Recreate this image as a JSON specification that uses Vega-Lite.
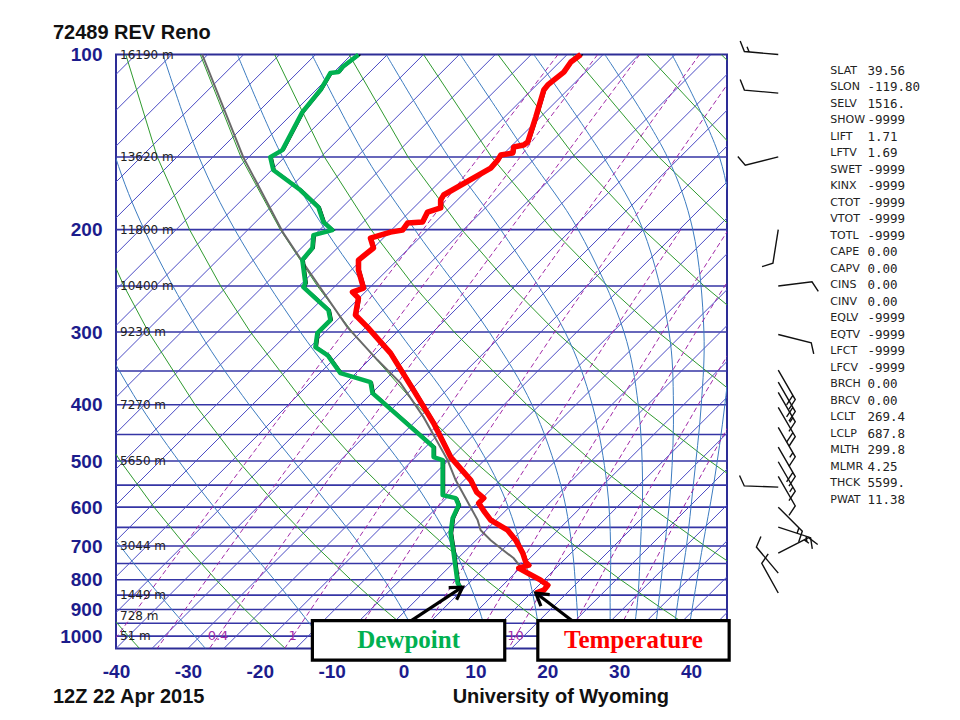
{
  "$schema": "https://vega.github.io/schema/vega-lite/v6.json",
  "width": 611,
  "height": 594,
  "autosize": {"type": "none"},
  "padding": {"left": 116, "top": 54.5, "right": 233, "bottom": 71.5},
  "background": "white",
  "config": {
    "view": {"stroke": "#2d2d96", "strokeWidth": 2},
    "font": "Liberation Sans",
    "axis": {"ticks": false, "domain": false, "grid": false, "labelColor": "#1c1c8c", "labelFontSize": 19, "labelFontWeight": "bold", "labelFont": "Liberation Sans", "labelFlush": false, "labelOverlap": false, "labelPadding": 14, "title": null}
  },
  "layer": [
    {
      "data": {"values": [{"p":150},{"p":200},{"p":250},{"p":300},{"p":350},{"p":400},{"p":450},{"p":500},{"p":550},{"p":600},{"p":650},{"p":700},{"p":750},{"p":800},{"p":850},{"p":900},{"p":950},{"p":1000}]},
      "mark": {"type": "rule", "color": "#3535a5", "strokeWidth": 1.6},
      "encoding": {
        "y": {"field": "p", "type": "quantitative", "title": null, "scale": {"type": "log", "domain": [100, 1050], "reverse": true, "nice": false, "zero": false},
          "axis": {"values": [100,200,300,400,500,600,700,800,900,1000], "format": "d", "title": null}}
      }
    },
    {
      "data": {"values": [
        {"t":-120,"xt":-37.23},{"t":-115,"xt":-32.23},{"t":-110,"xt":-27.23},{"t":-105,"xt":-22.23},{"t":-100,"xt":-17.23},{"t":-95,"xt":-12.23},{"t":-90,"xt":-7.23},{"t":-85,"xt":-2.23},{"t":-80,"xt":2.77},{"t":-75,"xt":7.77},{"t":-70,"xt":12.77},{"t":-65,"xt":17.77},{"t":-60,"xt":22.77},{"t":-55,"xt":27.77},{"t":-50,"xt":32.77},{"t":-45,"xt":37.77},{"t":-40,"xt":42.77},{"t":-35,"xt":47.77},{"t":-30,"xt":52.77},{"t":-25,"xt":57.77},{"t":-20,"xt":62.77},{"t":-15,"xt":67.77},{"t":-10,"xt":72.77},{"t":-5,"xt":77.77},{"t":0,"xt":82.77},{"t":5,"xt":87.77},{"t":10,"xt":92.77},{"t":15,"xt":97.77},{"t":20,"xt":102.77},{"t":25,"xt":107.77},{"t":30,"xt":112.77},{"t":35,"xt":117.77},{"t":40,"xt":122.77},{"t":45,"xt":127.77}
      ]},
      "mark": {"type": "rule", "color": "#4b4bc4", "strokeWidth": 1, "clip": true},
      "encoding": {
        "x": {"field": "t", "type": "quantitative", "title": null, "scale": {"domain": [-40, 45], "nice": false, "zero": false},
          "axis": {"values": [-40,-30,-20,-10,0,10,20,30,40], "labelExpr": "'' + datum.value", "title": null}},
        "x2": {"field": "xt"},
        "y": {"datum": 1050, "title": null},
        "y2": {"datum": 100}
      }
    },
    {
      "data": {"values": [
        {"th":233,"p":1050,"x":-36.72},{"th":233,"p":1000,"x":-38.28},{"th":233,"p":900,"x":-41.49},
        {"th":253,"p":1050,"x":-16.44},{"th":253,"p":1000,"x":-18.28},{"th":253,"p":900,"x":-22.08},{"th":253,"p":800,"x":-26.08},{"th":253,"p":700,"x":-30.28},{"th":253,"p":600,"x":-34.71},{"th":253,"p":500,"x":-39.40},{"th":253,"p":400,"x":-44.39},
        {"th":273,"p":1050,"x":3.84},{"th":273,"p":1000,"x":1.72},{"th":273,"p":900,"x":-2.68},{"th":273,"p":800,"x":-7.32},{"th":273,"p":700,"x":-12.22},{"th":273,"p":600,"x":-17.43},{"th":273,"p":500,"x":-23.00},{"th":273,"p":400,"x":-29.01},{"th":273,"p":300,"x":-35.48},{"th":273,"p":250,"x":-38.90},{"th":273,"p":200,"x":-42.40},
        {"th":293,"p":1050,"x":24.12},{"th":293,"p":1000,"x":21.72},{"th":293,"p":900,"x":16.73},{"th":293,"p":800,"x":11.45},{"th":293,"p":700,"x":5.84},{"th":293,"p":600,"x":-0.15},{"th":293,"p":500,"x":-6.60},{"th":293,"p":400,"x":-13.62},{"th":293,"p":300,"x":-21.30},{"th":293,"p":250,"x":-25.44},{"th":293,"p":200,"x":-29.77},{"th":293,"p":150,"x":-34.26},{"th":293,"p":100,"x":-38.64},
        {"th":313,"p":1050,"x":44.40},{"th":313,"p":1000,"x":41.72},{"th":313,"p":900,"x":36.14},{"th":313,"p":800,"x":30.21},{"th":313,"p":700,"x":23.90},{"th":313,"p":600,"x":17.13},{"th":313,"p":500,"x":9.80},{"th":313,"p":400,"x":1.77},{"th":313,"p":300,"x":-7.13},{"th":313,"p":250,"x":-11.99},{"th":313,"p":200,"x":-17.15},{"th":313,"p":150,"x":-22.63},{"th":313,"p":100,"x":-28.28},
        {"th":333,"p":900,"x":55.54},{"th":333,"p":800,"x":48.97},{"th":333,"p":700,"x":41.96},{"th":333,"p":600,"x":34.41},{"th":333,"p":500,"x":26.21},{"th":333,"p":400,"x":17.16},{"th":333,"p":300,"x":7.04},{"th":333,"p":250,"x":1.46},{"th":333,"p":200,"x":-4.53},{"th":333,"p":150,"x":-11.01},{"th":333,"p":100,"x":-17.93},
        {"th":353,"p":800,"x":67.74},{"th":353,"p":700,"x":60.02},{"th":353,"p":600,"x":51.70},{"th":353,"p":500,"x":42.61},{"th":353,"p":400,"x":32.55},{"th":353,"p":300,"x":21.22},{"th":353,"p":250,"x":14.92},{"th":353,"p":200,"x":8.09},{"th":353,"p":150,"x":0.62},{"th":353,"p":100,"x":-7.58},
        {"th":373,"p":600,"x":68.98},{"th":373,"p":500,"x":59.01},{"th":373,"p":400,"x":47.94},{"th":373,"p":300,"x":35.39},{"th":373,"p":250,"x":28.37},{"th":373,"p":200,"x":20.71},{"th":373,"p":150,"x":12.24},{"th":373,"p":100,"x":2.78},
        {"th":393,"p":500,"x":75.42},{"th":393,"p":400,"x":63.33},{"th":393,"p":300,"x":49.56},{"th":393,"p":250,"x":41.82},{"th":393,"p":200,"x":33.34},{"th":393,"p":150,"x":23.87},{"th":393,"p":100,"x":13.13},
        {"th":413,"p":400,"x":78.71},{"th":413,"p":300,"x":63.74},{"th":413,"p":250,"x":55.28},{"th":413,"p":200,"x":45.96},{"th":413,"p":150,"x":35.49},{"th":413,"p":100,"x":23.48},
        {"th":433,"p":300,"x":77.91},{"th":433,"p":250,"x":68.73},{"th":433,"p":200,"x":58.58},{"th":433,"p":150,"x":47.12},{"th":433,"p":100,"x":33.84},
        {"th":453,"p":200,"x":71.20},{"th":453,"p":150,"x":58.74},{"th":453,"p":100,"x":44.19}
      ]},
      "mark": {"type": "line", "color": "#2f9a2f", "strokeWidth": 1, "clip": true},
      "encoding": {
        "x": {"field": "x", "type": "quantitative", "title": null},
        "y": {"field": "p", "type": "quantitative", "title": null},
        "detail": {"field": "th"},
        "order": {"field": "p"}
      }
    },
    {
      "data": {"values": [
        {"te":243,"p":1050,"x":-27.55},{"te":243,"p":950,"x":-30.59},{"te":243,"p":850,"x":-33.91},{"te":243,"p":700,"x":-39.41},{"te":243,"p":550,"x":-45.47},
        {"te":263,"p":1050,"x":-10.46},{"te":263,"p":950,"x":-13.11},{"te":263,"p":850,"x":-16.21},{"te":263,"p":700,"x":-21.88},{"te":263,"p":550,"x":-28.75},{"te":263,"p":400,"x":-36.71},{"te":263,"p":300,"x":-42.57},
        {"te":283,"p":1050,"x":2.63},{"te":283,"p":950,"x":0.88},{"te":283,"p":850,"x":-1.34},{"te":283,"p":700,"x":-5.95},{"te":283,"p":550,"x":-12.60},{"te":283,"p":400,"x":-21.47},{"te":283,"p":300,"x":-28.41},{"te":283,"p":200,"x":-36.08},{"te":283,"p":150,"x":-40.08},{"te":283,"p":100,"x":-43.8},
        {"te":303,"p":1050,"x":12.08},{"te":303,"p":950,"x":11.12},{"te":303,"p":850,"x":9.81},{"te":303,"p":700,"x":6.83},{"te":303,"p":550,"x":1.79},{"te":303,"p":400,"x":-6.62},{"te":303,"p":300,"x":-14.35},{"te":303,"p":200,"x":-23.47},{"te":303,"p":150,"x":-28.46},{"te":303,"p":100,"x":-33.46},
        {"te":323,"p":1050,"x":19.07},{"te":323,"p":950,"x":18.69},{"te":323,"p":850,"x":18.01},{"te":323,"p":700,"x":16.34},{"te":323,"p":550,"x":13.30},{"te":323,"p":400,"x":6.81},{"te":323,"p":300,"x":-0.64},{"te":323,"p":200,"x":-10.89},{"te":323,"p":150,"x":-16.84},{"te":323,"p":100,"x":-23.11},
        {"te":343,"p":1050,"x":24.38},{"te":343,"p":950,"x":24.26},{"te":343,"p":850,"x":24.02},{"te":343,"p":700,"x":23.43},{"te":343,"p":550,"x":21.88},{"te":343,"p":400,"x":17.87},{"te":343,"p":300,"x":11.92},{"te":343,"p":200,"x":1.56},{"te":343,"p":150,"x":-5.24},{"te":343,"p":100,"x":-12.75},
        {"te":363,"p":1050,"x":28.49},{"te":363,"p":950,"x":28.73},{"te":363,"p":850,"x":28.74},{"te":363,"p":700,"x":28.81},{"te":363,"p":550,"x":28.31},{"te":363,"p":400,"x":26.25},{"te":363,"p":300,"x":22.47},{"te":363,"p":200,"x":13.52},{"te":363,"p":150,"x":6.26},{"te":363,"p":100,"x":-2.41},
        {"te":383,"p":1050,"x":31.86},{"te":383,"p":950,"x":32.21},{"te":383,"p":850,"x":32.63},{"te":383,"p":700,"x":32.96},{"te":383,"p":550,"x":33.26},{"te":383,"p":400,"x":32.65},{"te":383,"p":300,"x":30.67},{"te":383,"p":200,"x":24.29},{"te":383,"p":150,"x":17.45},{"te":383,"p":100,"x":7.91},
        {"te":403,"p":1050,"x":34.87},{"te":403,"p":950,"x":35.14},{"te":403,"p":850,"x":35.61},{"te":403,"p":700,"x":36.34},{"te":403,"p":550,"x":37.20},{"te":403,"p":400,"x":37.55},{"te":403,"p":300,"x":36.93},{"te":403,"p":200,"x":33.31},{"te":403,"p":150,"x":27.81},{"te":403,"p":100,"x":18.11},
        {"te":423,"p":1050,"x":37.12},{"te":423,"p":950,"x":37.73},{"te":423,"p":850,"x":38.29},{"te":423,"p":700,"x":39.36},{"te":423,"p":550,"x":40.31},{"te":423,"p":400,"x":41.42},{"te":423,"p":300,"x":41.79},{"te":423,"p":200,"x":40.24},{"te":423,"p":150,"x":36.70},{"te":423,"p":100,"x":28.00},
        {"te":443,"p":1050,"x":39.35},{"te":443,"p":950,"x":39.83},{"te":443,"p":850,"x":40.47},{"te":443,"p":700,"x":41.61},{"te":443,"p":550,"x":43.13},{"te":443,"p":400,"x":44.70},{"te":443,"p":300,"x":45.67},{"te":443,"p":200,"x":45.70},{"te":443,"p":150,"x":43.95},{"te":443,"p":100,"x":37.34}
      ]},
      "mark": {"type": "line", "color": "#3d7cc0", "strokeWidth": 1, "clip": true, "interpolate": "catmull-rom"},
      "encoding": {
        "x": {"field": "x", "type": "quantitative", "title": null},
        "y": {"field": "p", "type": "quantitative", "title": null},
        "detail": {"field": "te"},
        "order": {"field": "p"}
      }
    },
    {
      "data": {"values": [
        {"w":0.1,"p":1050,"x":-41.11},{"w":0.1,"p":600,"x":-26.60},{"w":0.1,"p":300,"x":-8.28},{"w":0.1,"p":100,"x":21.50},
        {"w":0.2,"p":1050,"x":-34.29},{"w":0.2,"p":600,"x":-20.14},{"w":0.2,"p":300,"x":-2.20},{"w":0.2,"p":100,"x":27.01},
        {"w":0.4,"p":1050,"x":-27.00},{"w":0.4,"p":600,"x":-13.23},{"w":0.4,"p":300,"x":4.26},{"w":0.4,"p":100,"x":32.87},
        {"w":1,"p":1050,"x":-16.55},{"w":1,"p":600,"x":-3.35},{"w":1,"p":300,"x":13.48},{"w":1,"p":100,"x":41.18},
        {"w":2,"p":1050,"x":-7.95},{"w":2,"p":600,"x":4.74},{"w":2,"p":300,"x":21.03},{"w":2,"p":100,"x":47.95},
        {"w":4,"p":1050,"x":1.29},{"w":4,"p":600,"x":13.44},{"w":4,"p":300,"x":29.11},{"w":4,"p":200,"x":38.56},
        {"w":7,"p":1050,"x":9.27},{"w":7,"p":600,"x":20.93},{"w":7,"p":300,"x":36.04},{"w":7,"p":200,"x":45.20},
        {"w":10,"p":1050,"x":14.61},{"w":10,"p":600,"x":25.92},{"w":10,"p":300,"x":40.67},{"w":10,"p":200,"x":49.62},
        {"w":16,"p":1050,"x":21.94},{"w":16,"p":600,"x":32.78},{"w":16,"p":400,"x":40.99},{"w":16,"p":300,"x":47.00},
        {"w":24,"p":1050,"x":28.54},{"w":24,"p":600,"x":38.94},{"w":24,"p":400,"x":46.86}
      ]},
      "mark": {"type": "line", "color": "#a12aa8", "strokeWidth": 1, "strokeDash": [5, 3], "clip": true},
      "encoding": {
        "x": {"field": "x", "type": "quantitative", "title": null},
        "y": {"field": "p", "type": "quantitative", "title": null},
        "detail": {"field": "w"},
        "order": {"field": "p"}
      }
    },
    {
      "data": {"values": [{"w":"0.4","x":-25.81},{"w":"1","x":-15.41},{"w":"10","x":15.57}]},
      "mark": {"type": "text", "color": "#a12aa8", "fontSize": 13, "align": "center", "baseline": "middle", "font": "DejaVu Sans"},
      "encoding": {
        "x": {"field": "x", "type": "quantitative", "title": null},
        "y": {"datum": 1000, "title": null},
        "text": {"field": "w"}
      }
    },
    {
      "data": {"values": [
        {"p":100,"h":"16190 m"},{"p":150,"h":"13620 m"},{"p":200,"h":"11800 m"},{"p":250,"h":"10400 m"},{"p":300,"h":"9230 m"},{"p":400,"h":"7270 m"},{"p":500,"h":"5650 m"},{"p":700,"h":"3044 m"},{"p":850,"h":"1449 m"},{"p":925,"h":"728 m"},{"p":1000,"h":"51 m"}
      ]},
      "mark": {"type": "text", "color": "#222222", "fontSize": 12, "align": "left", "baseline": "middle", "dx": 4, "font": "DejaVu Sans"},
      "encoding": {
        "x": {"datum": -40, "title": null},
        "y": {"field": "p", "type": "quantitative", "title": null},
        "text": {"field": "h"}
      }
    },
    {
      "data": {"values": [
        {"p":100,"x":-28.01},{"p":150.1,"x":-22.30},{"p":202.8,"x":-16.72},{"p":228.3,"x":-13.94},{"p":294.2,"x":-7.81},{"p":335.2,"x":-3.62},{"p":367.2,"x":-0.42},{"p":420.2,"x":2.79},{"p":498.1,"x":6.13},{"p":539.1,"x":7.25},{"p":631.7,"x":10.31},{"p":657.3,"x":10.73},{"p":683.8,"x":12.13},{"p":706.1,"x":13.52},{"p":734.6,"x":15.33},{"p":761.0,"x":16.31}
      ]},
      "mark": {"type": "line", "color": "#6a6a6a", "strokeWidth": 2},
      "encoding": {
        "x": {"field": "x", "type": "quantitative", "title": null},
        "y": {"field": "p", "type": "quantitative", "title": null},
        "order": {"field": "p"}
      }
    },
    {
      "data": {"name": "temperature", "values": [
        {"p":100,"x":24.67},{"p":103.0,"x":23.28},{"p":107.2,"x":22.30},{"p":112.8,"x":20.07},{"p":115.1,"x":19.51},{"p":128.1,"x":18.40},{"p":141.4,"x":17.28},{"p":143.1,"x":16.72},{"p":144.2,"x":15.33},{"p":147.7,"x":15.19},{"p":148.9,"x":13.52},{"p":151.9,"x":13.10},{"p":156.8,"x":12.13},{"p":174.4,"x":5.57},{"p":178.0,"x":5.16},{"p":183.6,"x":5.16},{"p":186.6,"x":3.34},{"p":194.1,"x":2.65},{"p":194.9,"x":0.56},{"p":200.4,"x":-0.14},{"p":202.0,"x":-1.81},{"p":206.9,"x":-4.60},{"p":215.1,"x":-4.18},{"p":225.6,"x":-6.27},{"p":234.8,"x":-6.27},{"p":252.1,"x":-5.57},{"p":256.1,"x":-7.11},{"p":262.3,"x":-6.27},{"p":280.5,"x":-6.69},{"p":294.2,"x":-5.02},{"p":326.1,"x":-1.81},{"p":377.5,"x":1.39},{"p":430.2,"x":4.18},{"p":492.2,"x":6.55},{"p":539.1,"x":9.34},{"p":565.4,"x":10.17},{"p":579.0,"x":11.15},{"p":590.6,"x":10.45},{"p":612.0,"x":11.29},{"p":631.7,"x":12.13},{"p":657.3,"x":14.49},{"p":683.8,"x":15.61},{"p":719.8,"x":16.59},{"p":746.0,"x":17.00},{"p":755.0,"x":17.42},{"p":764.0,"x":16.03},{"p":779.3,"x":17.28},{"p":801.2,"x":19.09},{"p":817.2,"x":20.07},{"p":833.6,"x":19.51},{"p":843.5,"x":18.40}
      ]},
      "encoding": {
        "x": {"field": "x", "type": "quantitative", "title": null},
        "y": {"field": "p", "type": "quantitative", "title": null},
        "order": {"field": "p"}
      },
      "layer": [
        {"mark": {"type": "line", "color": "#000000", "strokeWidth": 1.2, "xOffset": 2}},
        {"mark": {"type": "line", "color": "#ff0000", "strokeWidth": 5.5, "strokeJoin": "round"}}
      ]
    },
    {
      "data": {"name": "dewpoint", "values": [
        {"p":100.1,"x":-6.27},{"p":105.1,"x":-8.50},{"p":107.2,"x":-9.06},{"p":107.6,"x":-10.17},{"p":115.1,"x":-11.57},{"p":125.6,"x":-14.08},{"p":146.0,"x":-16.86},{"p":150.1,"x":-18.54},{"p":158.0,"x":-18.12},{"p":171.0,"x":-14.36},{"p":182.9,"x":-11.85},{"p":194.1,"x":-11.15},{"p":200.4,"x":-9.90},{"p":204.4,"x":-12.54},{"p":215.1,"x":-12.68},{"p":225.6,"x":-14.08},{"p":247.2,"x":-13.66},{"p":251.2,"x":-13.94},{"p":275.0,"x":-10.45},{"p":286.1,"x":-10.17},{"p":301.2,"x":-11.99},{"p":318.4,"x":-12.26},{"p":328.6,"x":-10.59},{"p":353.0,"x":-8.78},{"p":365.8,"x":-4.60},{"p":382.1,"x":-4.32},{"p":473.1,"x":4.18},{"p":492.2,"x":4.18},{"p":498.1,"x":5.44},{"p":539.1,"x":5.44},{"p":572.1,"x":5.44},{"p":579.0,"x":7.25},{"p":595.3,"x":7.67},{"p":626.8,"x":6.83},{"p":665.2,"x":6.55},{"p":719.8,"x":6.97},{"p":810.8,"x":7.53},{"p":827.0,"x":7.94}
      ]},
      "encoding": {
        "x": {"field": "x", "type": "quantitative", "title": null},
        "y": {"field": "p", "type": "quantitative", "title": null},
        "order": {"field": "p"}
      },
      "layer": [
        {"mark": {"type": "line", "color": "#000000", "strokeWidth": 1.2, "xOffset": 2}},
        {"mark": {"type": "line", "color": "#00b050", "strokeWidth": 4.5, "strokeJoin": "round"}}
      ]
    },
    {
      "data": {"values": [
        {"p":100,"dir":275,"spd":15},{"p":116.5,"dir":275,"spd":10},{"p":150,"dir":256,"spd":10},{"p":200,"dir":189,"spd":10},{"p":250,"dir":83,"spd":10},{"p":303,"dir":104,"spd":10},
        {"p":348.8,"dir":150,"spd":20},{"p":365.8,"dir":150,"spd":20},{"p":380.9,"dir":150,"spd":15},{"p":404.1,"dir":150,"spd":20},{"p":437.5,"dir":150,"spd":15},{"p":473.1,"dir":150,"spd":20},{"p":501.3,"dir":150,"spd":15},{"p":531.4,"dir":150,"spd":10},{"p":554.3,"dir":272,"spd":10},{"p":600,"dir":135,"spd":15},{"p":649.6,"dir":108,"spd":15},{"p":719.8,"dir":63,"spd":15},{"p":779,"dir":320,"spd":10},{"p":843,"dir":331,"spd":10}
      ]},
      "mark": {"type": "point", "filled": false, "stroke": "#111111", "strokeWidth": 1.4, "opacity": 1},
      "encoding": {
        "x": {"datum": 52.13, "title": null},
        "y": {"field": "p", "type": "quantitative", "title": null},
        "angle": {"field": "dir", "type": "quantitative", "scale": {"domain": [0, 360], "range": [0, 360]}},
        "shape": {"field": "spd", "type": "ordinal", "legend": null, "scale": {"domain": [5, 10, 15, 20, 25, 30], "range": [
          "M0,0L0,-1M0,-0.88L0.15,-0.955",
          "M0,0L0,-1L0.3,-1.15",
          "M0,0L0,-1L0.3,-1.15M0,-0.86L0.15,-0.935",
          "M0,0L0,-1L0.3,-1.15M0,-0.86L0.3,-1.01",
          "M0,0L0,-1L0.3,-1.15M0,-0.86L0.3,-1.01M0,-0.72L0.15,-0.795",
          "M0,0L0,-1L0.3,-1.15M0,-0.86L0.3,-1.01M0,-0.72L0.3,-0.87"
        ]}},
        "size": {"value": 4624}
      }
    },
    {
      "data": {"values": [
        {"idx":0,"k":"SLAT","v":"39.56"},{"idx":1,"k":"SLON","v":"-119.80"},{"idx":2,"k":"SELV","v":"1516."},{"idx":3,"k":"SHOW","v":"-9999"},{"idx":4,"k":"LIFT","v":"1.71"},{"idx":5,"k":"LFTV","v":"1.69"},{"idx":6,"k":"SWET","v":"-9999"},{"idx":7,"k":"KINX","v":"-9999"},{"idx":8,"k":"CTOT","v":"-9999"},{"idx":9,"k":"VTOT","v":"-9999"},{"idx":10,"k":"TOTL","v":"-9999"},{"idx":11,"k":"CAPE","v":"0.00"},{"idx":12,"k":"CAPV","v":"0.00"},{"idx":13,"k":"CINS","v":"0.00"},{"idx":14,"k":"CINV","v":"0.00"},{"idx":15,"k":"EQLV","v":"-9999"},{"idx":16,"k":"EQTV","v":"-9999"},{"idx":17,"k":"LFCT","v":"-9999"},{"idx":18,"k":"LFCV","v":"-9999"},{"idx":19,"k":"BRCH","v":"0.00"},{"idx":20,"k":"BRCV","v":"0.00"},{"idx":21,"k":"LCLT","v":"269.4"},{"idx":22,"k":"LCLP","v":"687.8"},{"idx":23,"k":"MLTH","v":"299.8"},{"idx":24,"k":"MLMR","v":"4.25"},{"idx":25,"k":"THCK","v":"5599."},{"idx":26,"k":"PWAT","v":"11.38"}
      ]},
      "encoding": {
        "y": {"datum": 100, "title": null},
        "yOffset": {"field": "idx", "type": "quantitative", "scale": {"domain": [0, 26], "range": [16, 445.5]}}
      },
      "layer": [
        {"mark": {"type": "text", "align": "left", "baseline": "middle", "fontSize": 11, "font": "DejaVu Sans", "color": "#222222"},
         "encoding": {"x": {"datum": 59.37, "title": null}, "text": {"field": "k"}}},
        {"mark": {"type": "text", "align": "left", "baseline": "middle", "fontSize": 12.5, "font": "DejaVu Sans Mono", "color": "#222222"},
         "encoding": {"x": {"datum": 64.53, "title": null}, "text": {"field": "v"}}}
      ]
    },
    {
      "data": {"values": [{"label": "annotations"}]},
      "layer": [
        {"mark": {"type": "rule", "color": "#000000", "strokeWidth": 3.2},
         "encoding": {"x": {"datum": 0.98, "title": null}, "y": {"datum": 942.3, "title": null}, "x2": {"datum": 8.0}, "y2": {"datum": 826}}},
        {"mark": {"type": "rule", "color": "#000000", "strokeWidth": 3.2},
         "encoding": {"x": {"datum": 23.55, "title": null}, "y": {"datum": 942.3, "title": null}, "x2": {"datum": 18.6}, "y2": {"datum": 846}}},
        {"mark": {"type": "point", "shape": "M-0.55,0.9L0,0L0.55,0.9", "filled": false, "stroke": "#000000", "strokeWidth": 3.2, "size": 700, "angle": 57, "opacity": 1},
         "encoding": {"x": {"datum": 8.22, "title": null}, "y": {"datum": 823.6, "title": null}}},
        {"mark": {"type": "point", "shape": "M-0.55,0.9L0,0L0.55,0.9", "filled": false, "stroke": "#000000", "strokeWidth": 3.2, "size": 700, "angle": 307, "opacity": 1},
         "encoding": {"x": {"datum": 18.40, "title": null}, "y": {"datum": 843.5, "title": null}}},
        {"mark": {"type": "rect", "fill": "#ffffff", "stroke": "#000000", "strokeWidth": 3.2},
         "encoding": {"x": {"datum": -12.68, "title": null}, "x2": {"datum": 14.08}, "y": {"datum": 940.5, "title": null}, "y2": {"datum": 1099.5}}},
        {"mark": {"type": "rect", "fill": "#ffffff", "stroke": "#000000", "strokeWidth": 3.2},
         "encoding": {"x": {"datum": 18.68, "title": null}, "x2": {"datum": 45.30}, "y": {"datum": 940.5, "title": null}, "y2": {"datum": 1099.5}}},
        {"mark": {"type": "text", "text": "Dewpoint", "font": "Liberation Serif", "fontWeight": "bold", "fontSize": 25, "color": "#00b050", "align": "center", "baseline": "middle"},
         "encoding": {"x": {"datum": 0.70, "title": null}, "y": {"datum": 1016, "title": null}}},
        {"mark": {"type": "text", "text": "Temperature", "font": "Liberation Serif", "fontWeight": "bold", "fontSize": 25, "color": "#ff0000", "align": "center", "baseline": "middle"},
         "encoding": {"x": {"datum": 31.99, "title": null}, "y": {"datum": 1016, "title": null}}},
        {"mark": {"type": "text", "text": "72489 REV Reno", "font": "Liberation Sans", "fontWeight": "bold", "fontSize": 20, "color": "#111111", "align": "left", "baseline": "middle"},
         "encoding": {"x": {"datum": -48.78, "title": null}, "y": {"datum": 91.8, "title": null}}},
        {"mark": {"type": "text", "text": "12Z 22 Apr 2015", "font": "Liberation Sans", "fontWeight": "bold", "fontSize": 20, "color": "#111111", "align": "left", "baseline": "middle"},
         "encoding": {"x": {"datum": -48.78, "title": null}, "y": {"datum": 1273, "title": null}}},
        {"mark": {"type": "text", "text": "University of Wyoming", "font": "Liberation Sans", "fontWeight": "bold", "fontSize": 20, "color": "#111111", "align": "center", "baseline": "middle"},
         "encoding": {"x": {"datum": 21.88, "title": null}, "y": {"datum": 1273, "title": null}}}
      ]
    }
  ]
}
